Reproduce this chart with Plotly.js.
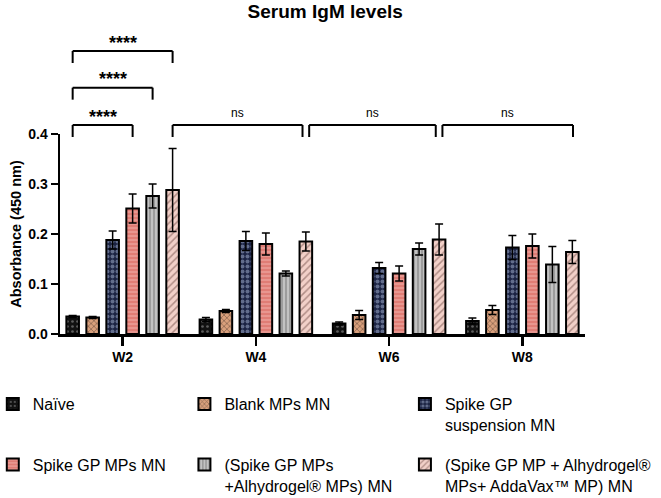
<!DOCTYPE html>
<html>
<head>
<meta charset="utf-8">
<script src="https://cdn.plot.ly/plotly-3.0.1.min.js"></script>
<style>html,body{margin:0;padding:0;background:#fff;}</style>
</head>
<body>
<div id="chart" style="width:661px;height:498px;"></div>
<script>
// ---- data ----
const weeks = ["W2", "W4", "W6", "W8"];
const groupNames = [
  "Naïve",
  "Blank MPs MN",
  "Spike GP<br>suspension MN",
  "Spike GP MPs MN",
  "(Spike GP MPs<br>+Alhydrogel® MPs) MN",
  "(Spike GP MP + Alhydrogel®<br>MPs+ AddaVax™ MP) MN"
];
const naive      = [0.035, 0.029, 0.021, 0.026];
const naiveErr   = [0.002, 0.004, 0.003, 0.006];
const blank      = [0.033, 0.046, 0.038, 0.048];
const blankErr   = [0.002, 0.003, 0.009, 0.009];
const susp       = [0.188, 0.186, 0.132, 0.173];
const suspErr    = [0.018, 0.019, 0.011, 0.024];
const mps        = [0.251, 0.180, 0.121, 0.176];
const mpsErr     = [0.029, 0.022, 0.015, 0.024];
const alhy       = [0.276, 0.121, 0.170, 0.139];
const alhyErr    = [0.024, 0.005, 0.012, 0.036];
const adda       = [0.288, 0.185, 0.189, 0.164];
const addaErr    = [0.083, 0.019, 0.031, 0.023];

// significance comparisons: [x-start, x-end] in week-index units, bracket level, label
const cmpStart = [-0.375, -0.375, -0.375, 0.375, 1.40, 2.40];
const cmpEnd   = [ 0.375,  0.225,  0.075, 1.35, 2.35, 3.38];
const cmpLevel = [2, 1, 0, 0, 0, 0];
const cmpLabel = ["****", "****", "****", "ns", "ns", "ns"];

// ---- styling ----
const FONT = '"Liberation Sans", Arial, Helvetica, sans-serif';
const xIdx = weeks.map((w, i) => i);
const series = [naive, blank, susp, mps, alhy, adda];
const errs = [naiveErr, blankErr, suspErr, mpsErr, alhyErr, addaErr];
const styles = [
  {bg: "#111111", fg: "#aaaaaa", shape: ".", size: 5, sol: 0.22},
  {bg: "#d9a07c", fg: "#3b2a22", shape: "x", size: 4, sol: 0.35},
  {bg: "#1a2242", fg: "#a9b8d6", shape: ".", size: 5, sol: 0.5},
  {bg: "#e07d75", fg: "#f6bdb6", shape: "-", size: 4, sol: 0.4},
  {bg: "#c2c2c2", fg: "#555555", shape: "|", size: 4, sol: 0.35},
  {bg: "#f2d0c8", fg: "#6e4a44", shape: "/", size: 5, sol: 0.3}
];
const legendPos = [
  {x: -0.128, y: -0.265}, {x: 0.237, y: -0.265}, {x: 0.657, y: -0.265},
  {x: -0.128, y: -0.568}, {x: 0.237, y: -0.568}, {x: 0.657, y: -0.568}
];

const traces = series.map((vals, i) => ({
  type: "bar",
  x: xIdx,
  y: vals,
  name: groupNames[i],
  legend: i === 0 ? "legend" : "legend" + (i + 1),
  showlegend: true,
  marker: {
    color: styles[i].bg,
    line: {color: "#000", width: 2},
    pattern: {shape: styles[i].shape, fgcolor: styles[i].fg, bgcolor: styles[i].bg,
              size: styles[i].size, solidity: styles[i].sol, fillmode: "overlay"}
  },
  error_y: {type: "data", array: errs[i], visible: true, color: "#000", thickness: 1.5, width: 4},
  hoverinfo: "skip"
}));

const layout = {
  width: 661, height: 498,
  margin: {l: 60, r: 76, t: 134, b: 164, autoexpand: false},
  paper_bgcolor: "#fff", plot_bgcolor: "#fff",
  font: {family: FONT, color: "#000"},
  showlegend: true,
  barmode: "group", bargap: 0.1, bargroupgap: 0.37,
  title: {text: "<b>Serum IgM levels</b>", font: {family: FONT, size: 19, color: "#000"},
          xref: "container", x: 0.492, xanchor: "center", yref: "container", y: 0.977, yanchor: "middle"},
  xaxis: {
    range: [-0.47, 3.47], tickvals: xIdx, ticktext: weeks.map(w => "<b>" + w + "</b>"),
    showline: true, linecolor: "#000", linewidth: 2.5, ticks: "outside", ticklen: 9, tickwidth: 2.5,
    tickcolor: "#000", showgrid: false, zeroline: false, tickfont: {family: FONT, size: 14, color: "#000"}
  },
  yaxis: {
    range: [0, 0.4], dtick: 0.1, tickformat: ".1f",
    showline: true, linecolor: "#000", linewidth: 2.5, ticks: "outside", ticklen: 7, tickwidth: 2.5,
    tickcolor: "#000", showgrid: false, zeroline: false,
    tickfont: {family: FONT, size: 14, color: "#000", weight: "bold"},
    title: {text: "<b>Absorbance (450 nm)</b>", font: {family: FONT, size: 14.5, color: "#000"}, standoff: 3}
  },
  shapes: [],
  annotations: []
};

// legends
legendPos.forEach((p, i) => {
  const key = i === 0 ? "legend" : "legend" + (i + 1);
  layout[key] = {x: p.x, y: p.y, xanchor: "left", yanchor: "top", xref: "paper", yref: "paper",
                 bgcolor: "rgba(0,0,0,0)", borderwidth: 0, valign: "top", visible: true,
                 font: {family: FONT, size: 16, color: "#000"}};
});

// significance brackets
const levelY = [1.045, 1.2317, 1.415];
const tickDrop = 0.06;
const labelY = {"****": [1.103, 1.293, 1.473], "ns": [1.107, 1.107, 1.107]};
cmpStart.forEach((x0, k) => {
  const x1 = cmpEnd[k];
  const yh = levelY[cmpLevel[k]];
  const ln = {color: "#000", width: 2};
  layout.shapes.push({type: "line", xref: "x", yref: "paper", x0: x0, x1: x1, y0: yh, y1: yh, line: ln});
  layout.shapes.push({type: "line", xref: "x", yref: "paper", x0: x0, x1: x0, y0: yh, y1: yh - tickDrop, line: ln});
  layout.shapes.push({type: "line", xref: "x", yref: "paper", x0: x1, x1: x1, y0: yh, y1: yh - tickDrop, line: ln});
  const isStar = cmpLabel[k] === "****";
  layout.annotations.push({
    xref: "x", yref: "paper", x: (x0 + x1) / 2, y: labelY[cmpLabel[k]][cmpLevel[k]],
    text: isStar ? "<b>" + cmpLabel[k] + "</b>" : cmpLabel[k], showarrow: false,
    xanchor: "center", yanchor: "middle", yshift: isStar ? -4 : 0,
    font: {family: FONT, size: isStar ? 18 : 12, color: "#000"}
  });
});

Plotly.newPlot("chart", traces, layout, {displayModeBar: false, staticPlot: true});
</script>
</body>
</html>
